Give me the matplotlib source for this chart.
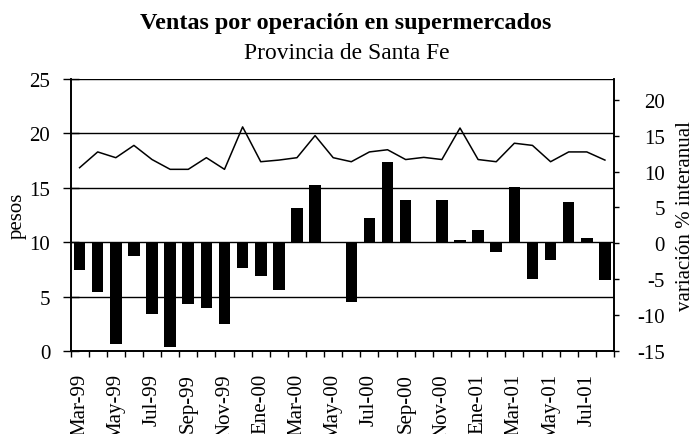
import matplotlib
matplotlib.use("Agg")
import matplotlib.pyplot as plt
import numpy as np

plt.rcParams['font.family'] = ['Liberation Serif', 'DejaVu Serif']
plt.rcParams['axes.unicode_minus'] = False

months = ["Mar-99", "Abr-99", "May-99", "Jun-99", "Jul-99", "Ago-99", "Sep-99", "Oct-99",
          "Nov-99", "Dic-99", "Ene-00", "Feb-00", "Mar-00", "Abr-00", "May-00", "Jun-00",
          "Jul-00", "Ago-00", "Sep-00", "Oct-00", "Nov-00", "Dic-00", "Ene-01", "Feb-01",
          "Mar-01", "Abr-01", "May-01", "Jun-01", "Jul-01", "Ago-01"]

pesos = [16.85, 18.3, 17.77, 18.9, 17.6, 16.7, 16.7, 17.77, 16.7, 20.6,
         17.4, 17.55, 17.77, 19.8, 17.77, 17.4, 18.3, 18.5, 17.6, 17.8,
         17.6, 20.5, 17.6, 17.4, 19.1, 18.9, 17.4, 18.3, 18.3, 17.55]

variacion = [-3.7, -6.75, -14.0, -1.8, -9.85, -14.5, -8.45, -9.0, -11.2, -3.45,
             -4.55, -6.5, 4.9, 8.2, 0.0, -8.2, 3.5, 11.3, 6.0, 0.0,
             6.0, 0.45, 1.8, -1.25, 7.9, -4.9, -2.35, 5.7, 0.7, -5.15]

left_ticks = [0, 5, 10, 15, 20, 25]
right_ticks = [-15, -10, -5, 0, 5, 10, 15, 20]

FS = 15

fig = plt.figure(figsize=(6.94, 4.35), dpi=100)
ax = fig.add_axes([0.1016, 0.1908, 0.7831, 0.6252])
ax2 = ax.twinx()

x = np.arange(len(months))

ax.set_ylim(0, 25)
ax.set_yticks(left_ticks)
for t in left_ticks[1:]:
    ax.axhline(t, color='black', lw=1.0, zorder=1)

ax2.bar(x, variacion, width=0.64, color='black', zorder=2)
ax2.set_ylim(-15, 22.9)
ax2.set_yticks(right_ticks)
ax2.set_yticklabels([str(t) for t in right_ticks])
for lab in ax2.get_yticklabels():
    lab.set_horizontalalignment('right')

ax.plot(x, pesos, color='black', lw=1.1, zorder=5)
ax.set_zorder(ax2.get_zorder() + 1)
ax.patch.set_visible(False)

ax.set_xlim(-0.5, len(months) - 0.5)
ax.set_xticks(x[::2])
ax.set_xticklabels(months[::2], rotation=90, fontsize=FS)
ax.set_xticks(np.arange(-0.5, len(months), 1.0), minor=True)
ax.tick_params(axis='x', which='major', length=0, pad=16)
ax.tick_params(axis='x', which='minor', length=4.5, width=1.0, direction='out', color='black')
ax.tick_params(axis='y', which='major', length=11, width=1.0, direction='inout', labelsize=FS, pad=9)
ax2.tick_params(axis='y', which='major', length=3.6, width=1.0, direction='out', labelsize=FS, pad=33)

for a in (ax, ax2):
    for s in a.spines.values():
        s.set_color('black')
        s.set_linewidth(1.2)
ax2.spines['top'].set_visible(False)
ax.spines['top'].set_visible(False)

fig.text(17.5 / 694, 0.5 * (0.1908 + 0.816), 'pesos', rotation=90, ha='center', va='center', fontsize=FS)
fig.text(685 / 694, 0.5 * (0.1908 + 0.816), 'variación % interanual', rotation=90,
         ha='center', va='center', fontsize=FS)

fig.text(0.4985, 0.947, 'Ventas por operación en supermercados', ha='center', va='center',
         fontsize=17.4, fontweight='bold')
fig.text(0.5, 0.876, 'Provincia de Santa Fe', ha='center', va='center', fontsize=16.9)

fig.savefig('out.png', dpi=100)
